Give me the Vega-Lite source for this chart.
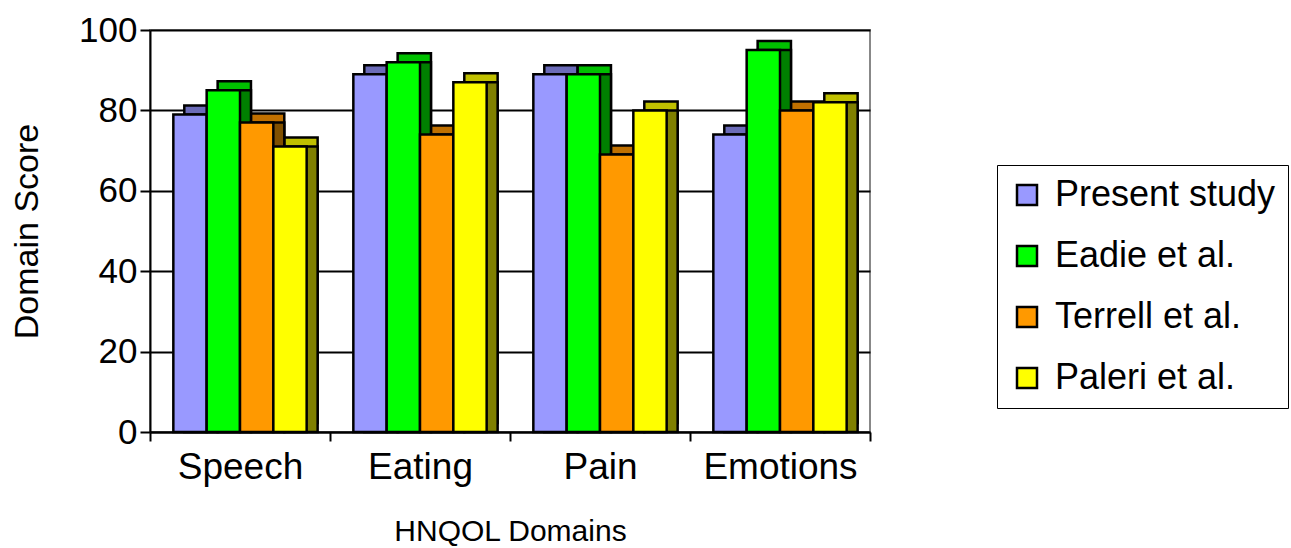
{
  "$schema": "https://vega.github.io/schema/vega-lite/v6.json",
  "width": 720,
  "height": 402,
  "autosize": "none",
  "padding": {"left": 150, "top": 30, "right": 421, "bottom": 116},
  "background": "white",
  "config": {
    "font": "Liberation Sans",
    "view": {"stroke": "#888888", "strokeWidth": 2}
  },
  "data": {
    "values": [
      {"Domain": "Speech", "Study": "Present study", "Score": 79},
      {"Domain": "Speech", "Study": "Eadie et al.", "Score": 85},
      {"Domain": "Speech", "Study": "Terrell et al.", "Score": 77},
      {"Domain": "Speech", "Study": "Paleri et al.", "Score": 71},
      {"Domain": "Eating", "Study": "Present study", "Score": 89},
      {"Domain": "Eating", "Study": "Eadie et al.", "Score": 92},
      {"Domain": "Eating", "Study": "Terrell et al.", "Score": 74},
      {"Domain": "Eating", "Study": "Paleri et al.", "Score": 87},
      {"Domain": "Pain", "Study": "Present study", "Score": 89},
      {"Domain": "Pain", "Study": "Eadie et al.", "Score": 89},
      {"Domain": "Pain", "Study": "Terrell et al.", "Score": 69},
      {"Domain": "Pain", "Study": "Paleri et al.", "Score": 80},
      {"Domain": "Emotions", "Study": "Present study", "Score": 74},
      {"Domain": "Emotions", "Study": "Eadie et al.", "Score": 95},
      {"Domain": "Emotions", "Study": "Terrell et al.", "Score": 80},
      {"Domain": "Emotions", "Study": "Paleri et al.", "Score": 82}
    ]
  },
  "encoding": {
    "x": {
      "field": "Domain",
      "type": "nominal",
      "sort": ["Speech", "Eating", "Pain", "Emotions"],
      "scale": {"paddingInner": 0, "paddingOuter": 0},
      "axis": {
        "title": "HNQOL Domains",
        "labelAngle": 0,
        "labelFontSize": 37,
        "labelColor": "black",
        "labelPadding": 8,
        "tickBand": "extent",
        "tickSize": 9,
        "tickColor": "black",
        "tickWidth": 2,
        "domainColor": "black",
        "domainWidth": 2,
        "titleFontSize": 30,
        "titleFontWeight": "normal",
        "titleColor": "black",
        "titlePadding": 31
      }
    },
    "y": {
      "field": "Score",
      "type": "quantitative",
      "scale": {"domain": [0, 100]},
      "axis": {
        "title": "Domain Score",
        "values": [0, 20, 40, 60, 80, 100],
        "labelFontSize": 35,
        "labelColor": "black",
        "labelPadding": 3,
        "tickSize": 10,
        "tickColor": "black",
        "tickWidth": 2,
        "domainColor": "black",
        "domainWidth": 2,
        "grid": true,
        "gridColor": "black",
        "gridWidth": 2,
        "titleFontSize": 34,
        "titleFontWeight": "normal",
        "titleColor": "black",
        "titlePadding": 34
      }
    }
  },
  "layer": [
    {
      "mark": {"type": "bar", "yOffset": -9, "stroke": "black", "strokeWidth": 2.5, "opacity": 1},
      "encoding": {
        "xOffset": {
          "field": "Study",
          "sort": ["Present study", "Eadie et al.", "Terrell et al.", "Paleri et al."],
          "scale": {"paddingInner": 0, "paddingOuter": 0.7, "align": 0.735}
        },
        "color": {
          "field": "Study",
          "type": "nominal",
          "scale": {
            "domain": ["Present study", "Eadie et al.", "Terrell et al.", "Paleri et al."],
            "range": ["#6B6BB8", "#00C000", "#C07000", "#C0C000"]
          },
          "legend": null
        }
      }
    },
    {
      "mark": {"type": "bar", "stroke": "black", "strokeWidth": 2.5, "opacity": 1},
      "encoding": {
        "xOffset": {
          "field": "Study",
          "sort": ["Present study", "Eadie et al.", "Terrell et al.", "Paleri et al."],
          "scale": {"paddingInner": 0, "paddingOuter": 0.7, "align": 0.735}
        },
        "color": {
          "field": "Study",
          "type": "nominal",
          "scale": {
            "domain": ["Present study", "Eadie et al.", "Terrell et al.", "Paleri et al."],
            "range": ["#4D4D80", "#008000", "#805000", "#808000"]
          },
          "legend": null
        }
      }
    },
    {
      "mark": {"type": "bar", "stroke": "black", "strokeWidth": 2.5, "opacity": 1},
      "encoding": {
        "xOffset": {
          "field": "Study",
          "sort": ["Present study", "Eadie et al.", "Terrell et al.", "Paleri et al."],
          "scale": {"paddingInner": 0, "paddingOuter": 0.7, "align": 0.5}
        },
        "color": {
          "field": "Study",
          "type": "nominal",
          "scale": {
            "domain": ["Present study", "Eadie et al.", "Terrell et al.", "Paleri et al."],
            "range": ["#9999FF", "#00FF00", "#FF9900", "#FFFF00"]
          },
          "legend": {
            "title": null,
            "orient": "none",
            "legendX": 847,
            "legendY": 135,
            "labelFontSize": 36,
            "labelColor": "black",
            "labelLimit": 400,
            "labelOffset": 10,
            "symbolType": "square",
            "symbolSize": 400,
            "symbolStrokeColor": "black",
            "symbolStrokeWidth": 2.5,
            "rowPadding": 25,
            "padding": 12,
            "strokeColor": "black",
            "fillColor": "white"
          }
        }
      }
    }
  ],
  "resolve": {
    "scale": {"color": "independent", "xOffset": "independent"},
    "legend": {"color": "independent"}
  }
}
